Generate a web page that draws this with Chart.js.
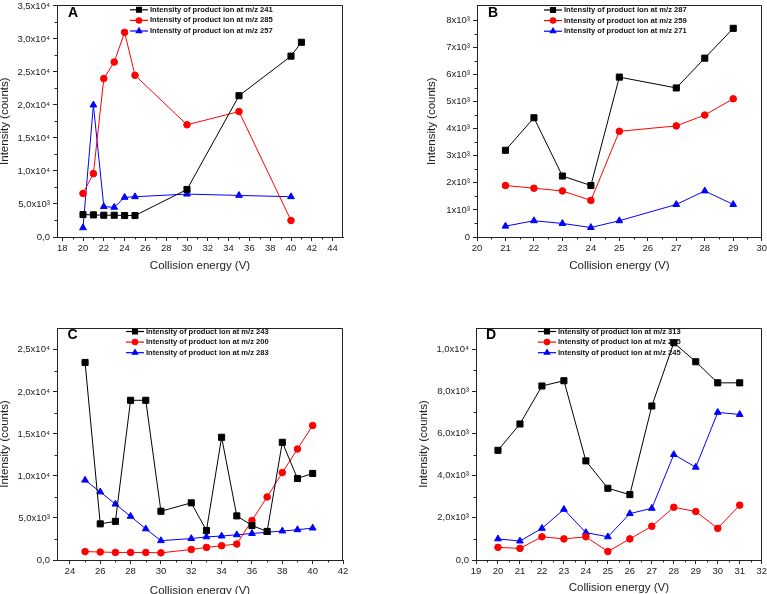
<!DOCTYPE html>
<html>
<head>
<meta charset="utf-8">
<script src="https://cdn.jsdelivr.net/npm/chart.js@4.4.0/dist/chart.umd.min.js"></script>
<style>
  body { margin: 0; background: #fff; width: 767px; height: 594px; overflow: hidden; position: relative; }
  canvas { position: absolute; }
</style>
</head>
<body>
<canvas id="chartA" width="384" height="297" style="left:0;top:0"></canvas>
<canvas id="chartB" width="383" height="297" style="left:384px;top:0"></canvas>
<canvas id="chartC" width="384" height="310" style="left:0;top:297px"></canvas>
<canvas id="chartD" width="383" height="310" style="left:384px;top:297px"></canvas>
<script>
// panel A
const energyA241 = [20, 21, 22, 23, 24, 25, 30, 35, 40, 41];
const intensityA241 = [3400, 3350, 3300, 3300, 3250, 3250, 7200, 21400, 27400, 29500];
const energyA285 = [20, 21, 22, 23, 24, 25, 30, 35, 40];
const intensityA285 = [6600, 9600, 24000, 26500, 31000, 24500, 17000, 19000, 2500];
const energyA257 = [20, 21, 22, 23, 24, 25, 30, 35, 40];
const intensityA257 = [1400, 20000, 4600, 4500, 6000, 6100, 6500, 6300, 6100];
const xTicksA = [18, 20, 22, 24, 26, 28, 30, 32, 34, 36, 38, 40, 42, 44];
const yTicksA = [0, 5000, 10000, 15000, 20000, 25000, 30000, 35000];
const yLabelsA = ['0,0', '5,0x10³', '1,0x10⁴', '1,5x10⁴', '2,0x10⁴', '2,5x10⁴', '3,0x10⁴', '3,5x10⁴'];

// panel B
const energyB = [21, 22, 23, 24, 25, 27, 28, 29];
const intensityB287 = [3200, 4400, 2250, 1900, 5900, 5500, 6600, 7700];
const intensityB259 = [1900, 1800, 1700, 1350, 3900, 4100, 4500, 5100];
const intensityB271 = [400, 600, 500, 350, 600, 1200, 1700, 1200];
const xTicksB = [20, 21, 22, 23, 24, 25, 26, 27, 28, 29, 30];
const yTicksB = [0, 1000, 2000, 3000, 4000, 5000, 6000, 7000, 8000];
const yLabelsB = ['0', '1x10³', '2x10³', '3x10³', '4x10³', '5x10³', '6x10³', '7x10³', '8x10³'];

// panel C
const energyC = [25, 26, 27, 28, 29, 30, 32, 33, 34, 35, 36, 37, 38, 39, 40];
const intensityC243 = [23500, 4300, 4600, 19000, 19000, 5800, 6800, 3500, 14600, 5250, 4100, 3400, 14000, 9700, 10300];
const intensityC200 = [1000, 950, 900, 900, 900, 850, 1250, 1500, 1700, 1900, 4700, 7500, 10400, 13200, 16000];
const intensityC283 = [9500, 8100, 6650, 5200, 3700, 2300, 2550, 2750, 2850, 3000, 3150, 3300, 3450, 3600, 3800];
const xTicksC = [24, 26, 28, 30, 32, 34, 36, 38, 40, 42];
const yTicksC = [0, 5000, 10000, 15000, 20000, 25000];
const yLabelsC = ['0,0', '5,0x10³', '1,0x10⁴', '1,5x10⁴', '2,0x10⁴', '2,5x10⁴'];

// panel D
const energyD = [20, 21, 22, 23, 24, 25, 26, 27, 28, 29, 30, 31];
const intensityD313 = [5200, 6450, 8250, 8500, 4700, 3400, 3100, 7300, 10300, 9400, 8400, 8400];
const intensityD275 = [600, 550, 1100, 1000, 1100, 400, 1000, 1600, 2500, 2300, 1500, 2600];
const intensityD245 = [1000, 900, 1500, 2400, 1300, 1100, 2200, 2450, 5000, 4400, 7000, 6900];
const xTicksD = [19, 20, 21, 22, 23, 24, 25, 26, 27, 28, 29, 30, 31, 32];
const yTicksD = [0, 2000, 4000, 6000, 8000, 10000];
const yLabelsD = ['0,0', '2,0x10³', '4,0x10³', '6,0x10³', '8,0x10³', '1,0x10⁴'];

const axisColor = '#222';
Chart.defaults.font.family = "'Liberation Sans', Arial, sans-serif";
Chart.defaults.color = '#222';

function toPoints(xs, ys) {
    return xs.map((x, i) => ({ x: x, y: ys[i] }));
}

// box round the plot, minor ticks, legend and panel letter
const decorations = {
    id: 'decorations',
    afterDraw(chart, args, opts) {
        const ctx = chart.ctx;
        const area = chart.chartArea;
        ctx.save();
        ctx.strokeStyle = axisColor;
        ctx.lineWidth = 1;
        ctx.beginPath();
        ctx.moveTo(Math.round(area.left) + 0.5, Math.round(area.top) + 0.5);
        ctx.lineTo(Math.round(area.right) - 0.5, Math.round(area.top) + 0.5);
        ctx.lineTo(Math.round(area.right) - 0.5, Math.round(area.bottom) + 0.5);
        ctx.stroke();

        // minor ticks half way between the major ones
        const xs = chart.scales.x, ys = chart.scales.y;
        ctx.beginPath();
        for (let i = 0; i < xs.ticks.length - 1; i++) {
            const px = Math.round(xs.getPixelForValue((xs.ticks[i].value + xs.ticks[i + 1].value) / 2)) + 0.5;
            ctx.moveTo(px, area.bottom);
            ctx.lineTo(px, area.bottom + 2.5);
        }
        for (let i = 0; i < ys.ticks.length - 1; i++) {
            const py = Math.round(ys.getPixelForValue((ys.ticks[i].value + ys.ticks[i + 1].value) / 2)) + 0.5;
            ctx.moveTo(area.left, py);
            ctx.lineTo(area.left - 2.5, py);
        }
        ctx.stroke();

        // legend inside the plot
        chart.data.datasets.forEach((ds, i) => {
            const y = opts.y + i * 10.6;
            ctx.strokeStyle = ds.borderColor;
            ctx.fillStyle = ds.backgroundColor;
            ctx.lineWidth = 1.2;
            ctx.beginPath();
            ctx.moveTo(opts.x, y);
            ctx.lineTo(opts.x + 18, y);
            ctx.stroke();
            Chart.helpers.drawPoint(ctx, {
                pointStyle: ds.pointStyle, radius: ds.pointRadius * 0.8, rotation: 0, borderWidth: 1
            }, opts.x + 9, y);
            ctx.fillStyle = '#111';
            ctx.font = "bold 7.6px 'Liberation Sans Narrow', 'Arial Narrow', sans-serif";
            ctx.textBaseline = 'middle';
            ctx.textAlign = 'left';
            ctx.fillText(ds.label, opts.x + 20, y);
        });

        ctx.fillStyle = '#000';
        ctx.font = "bold 14px 'Liberation Sans', Arial, sans-serif";
        ctx.textAlign = 'center';
        ctx.textBaseline = 'middle';
        ctx.fillText(opts.letter, opts.letterX, opts.letterY);
        ctx.restore();
    }
};

function makePanel(id, series, p) {
    const canvas = document.getElementById(id);
    const w = canvas.width, h = canvas.height;
    const styles = [
        { color: '#000000', point: 'rect', r: 4.3 },
        { color: '#ff0000', point: 'circle', r: 3.3 },
        { color: '#0000ff', point: 'triangle', r: 3.9 }
    ];
    return new Chart(canvas, {
        type: 'line',
        data: {
            datasets: series.map((s, i) => ({
                label: s.label,
                data: toPoints(s.x, s.y),
                borderColor: styles[i].color,
                backgroundColor: styles[i].color,
                borderWidth: 1,
                pointStyle: styles[i].point,
                pointRadius: styles[i].r,
                pointBorderWidth: 1,
                tension: 0
            }))
        },
        options: {
            responsive: false,
            animation: false,
            devicePixelRatio: 1,
            layout: { padding: { left: 0, top: p.area.top, right: w - p.area.right, bottom: 0 } },
            plugins: {
                legend: { display: false },
                tooltip: { enabled: false },
                decorations: p.legend
            },
            scales: {
                x: {
                    type: 'linear',
                    min: p.xMin, max: p.xMax,
                    afterBuildTicks: scale => { scale.ticks = p.xTicks.map(v => ({ value: v })); },
                    afterFit: scale => {
                        scale.height = h - p.area.bottom;
                        scale.paddingLeft = 0; scale.paddingRight = 0;
                    },
                    ticks: { autoSkip: false, maxRotation: 0, padding: 2, font: { size: 9.5 }, color: '#222',
                        callback: v => String(v) },
                    grid: { drawOnChartArea: false, drawTicks: true, tickLength: 4, color: axisColor },
                    border: { display: true, color: axisColor, width: 1 },
                    title: { display: true, text: 'Collision energy (V)', color: '#222',
                        font: { size: 11.5, lineHeight: 1 }, padding: { top: 0, bottom: p.xTitlePad } }
                },
                y: {
                    type: 'linear',
                    min: 0, max: p.yMax,
                    afterBuildTicks: scale => { scale.ticks = p.yTicks.map(v => ({ value: v })); },
                    afterFit: scale => {
                        scale.width = p.area.left;
                        scale.paddingTop = 0; scale.paddingBottom = 0;
                    },
                    ticks: { autoSkip: false, padding: 3, font: { size: 9.5 }, color: '#222',
                        callback: (v, i) => p.yLabels[i] },
                    grid: { drawOnChartArea: false, drawTicks: true, tickLength: 4, color: axisColor },
                    border: { display: true, color: axisColor, width: 1 },
                    title: { display: true, text: 'Intensity (counts)', color: '#222',
                        font: { size: 11.5, lineHeight: 1 }, padding: { top: p.yTitlePad, bottom: 0 } }
                }
            }
        },
        plugins: [decorations]
    });
}

makePanel('chartA', [
    { label: 'Intensity of product ion at m/z 241', x: energyA241, y: intensityA241 },
    { label: 'Intensity of product ion at m/z 285', x: energyA285, y: intensityA285 },
    { label: 'Intensity of product ion at m/z 257', x: energyA257, y: intensityA257 }
], {
    area: { left: 57, top: 5, right: 343, bottom: 237 },
    xMin: 17.5, xMax: 45, xTicks: xTicksA,
    yMax: 35100, yTicks: yTicksA, yLabels: yLabelsA,
    xTitlePad: 25, yTitlePad: -1,
    legend: { x: 130, y: 9.8, letter: 'A', letterX: 73, letterY: 13.5 }
});

makePanel('chartB', [
    { label: 'Intensity of product ion at m/z 287', x: energyB, y: intensityB287 },
    { label: 'Intensity of product ion at m/z 259', x: energyB, y: intensityB259 },
    { label: 'Intensity of product ion at m/z 271', x: energyB, y: intensityB271 }
], {
    area: { left: 93, top: 5, right: 379, bottom: 237 },
    xMin: 20, xMax: 30, xTicks: xTicksB,
    yMax: 8550, yTicks: yTicksB, yLabels: yLabelsB,
    xTitlePad: 25, yTitlePad: 42,
    legend: { x: 160, y: 10, letter: 'B', letterX: 109, letterY: 13.5 }
});

makePanel('chartC', [
    { label: 'Intensity of product ion at m/z 243', x: energyC, y: intensityC243 },
    { label: 'Intensity of product ion at m/z 200', x: energyC, y: intensityC200 },
    { label: 'Intensity of product ion at m/z 283', x: energyC, y: intensityC283 }
], {
    area: { left: 57, top: 31, right: 343, bottom: 263 },
    xMin: 23.15, xMax: 42, xTicks: xTicksC,
    yMax: 27600, yTicks: yTicksC, yLabels: yLabelsC,
    xTitlePad: 10, yTitlePad: -1,
    legend: { x: 126, y: 34.5, letter: 'C', letterX: 72.5, letterY: 38 }
});

makePanel('chartD', [
    { label: 'Intensity of product ion at m/z 313', x: energyD, y: intensityD313 },
    { label: 'Intensity of product ion at m/z 275', x: energyD, y: intensityD275 },
    { label: 'Intensity of product ion at m/z 245', x: energyD, y: intensityD245 }
], {
    area: { left: 92, top: 31, right: 380, bottom: 263 },
    xMin: 19, xMax: 32, xTicks: xTicksD,
    yMax: 11000, yTicks: yTicksD, yLabels: yLabelsD,
    xTitlePad: 13, yTitlePad: 34,
    legend: { x: 154, y: 34.5, letter: 'D', letterX: 107, letterY: 38 }
});
</script>
</body>
</html>
